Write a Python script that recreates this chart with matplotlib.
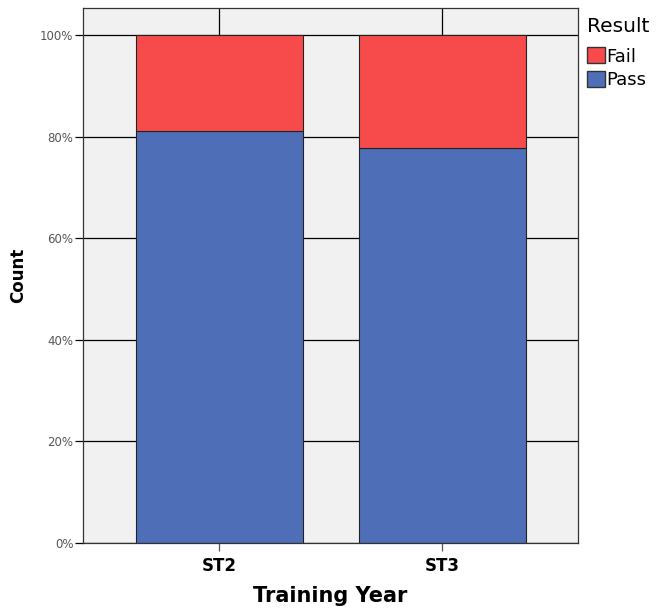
import matplotlib.pyplot as plt
from matplotlib.patches import Patch

years = ["ST2", "ST3"]
pass_pct = [81.1, 77.8]
fail_pct = [18.9, 22.2]
yticks = [0, 20, 40, 60, 80, 100]

blue = "#4e6fb8"
red = "#f74b4b"

fig = plt.figure(figsize=(6.59, 6.15), dpi=100)
ax = fig.add_axes([0.126, 0.117, 0.751, 0.870])
ax.set_facecolor("#f1f1f1")

x = list(range(len(years)))
for y in yticks:
    ax.axhline(y, color="black", lw=0.9, zorder=1)
ax.vlines(x, 100, 106, color="black", lw=0.9, zorder=1)

ax.bar(x, pass_pct, width=0.75, color=blue, edgecolor="#222222", lw=0.8, zorder=2)
ax.bar(x, fail_pct, width=0.75, bottom=pass_pct, color=red, edgecolor="#222222", lw=0.8, zorder=2)

ax.set_xlim(-0.612, 1.608)
ax.set_ylim(0, 105.3)
ax.set_yticks(yticks)
ax.set_yticklabels([f"{v}%" for v in yticks], fontsize=8.5, color="#555555")
ax.set_xticks(x)
ax.set_xticklabels(years, fontsize=12, fontweight="bold")
ax.tick_params(axis="y", length=6, width=0.9, pad=1)
ax.tick_params(axis="x", length=6, width=0.9, color="#555555", pad=4)
for s in ax.spines.values():
    s.set_color("#333333")
    s.set_linewidth(0.9)

ax.set_xlabel("Training Year", fontsize=15, fontweight="bold", labelpad=8)
ax.set_ylabel("Count", fontsize=12, fontweight="bold", labelpad=9)

handles = [Patch(facecolor=red, edgecolor="#333333", label="Fail"),
           Patch(facecolor=blue, edgecolor="#333333", label="Pass")]
leg = fig.legend(handles=handles, title="Result", loc="upper left",
                 bbox_to_anchor=(0.89, 0.972), frameon=False, fontsize=13,
                 title_fontsize=14.5, handlelength=1.0, handleheight=1.0,
                 handletextpad=0.1, labelspacing=0.3, borderaxespad=0,
                 borderpad=0)
leg._legend_box.align = "left"
leg._legend_box.sep = 8

fig.savefig("out.png", dpi=100)
